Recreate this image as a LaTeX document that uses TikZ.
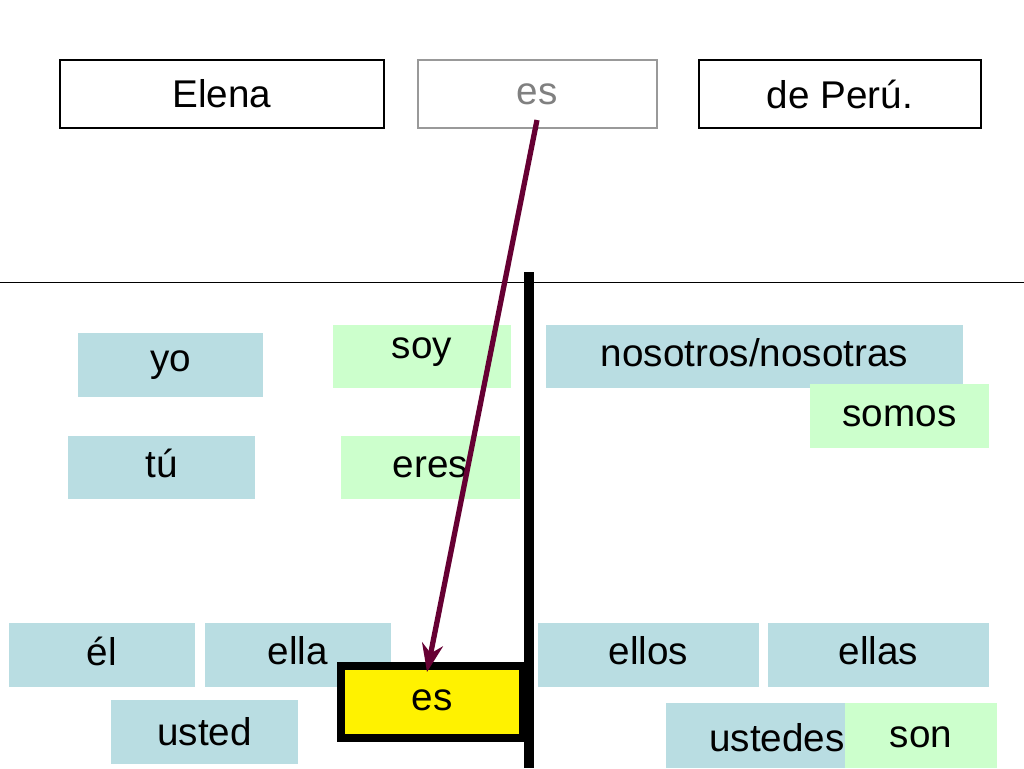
\documentclass[tikz,border=0pt]{standalone}
\usepackage{fontspec}
\setmainfont{Liberation Sans}
\usetikzlibrary{arrows.meta,calc}
\definecolor{pblue}{RGB}{185,221,226}
\definecolor{pgreen}{RGB}{204,255,204}
\definecolor{maroon}{RGB}{102,0,51}
\tikzset{
  word/.style={inner sep=0pt, font=\fontsize{22}{26}\selectfont},
  framebox/.style={draw=black, line width=1.6pt, fill=white},
}
\newcommand{\wordbox}[6]{% name, x1, y1, x2, y2, fill
  \fill[#6] (#2,#3) rectangle (#4,#5);
  \coordinate (#1) at ({(#2+#4)/2},{(#3+#5)/2});
}
\begin{document}
\begin{tikzpicture}[x=0.02cm,y=-0.02cm]
\useasboundingbox (0,0) rectangle (1024,768);
% sentence
\draw[framebox] (60,60) rectangle (384,128);
\node[word] (elena) at (222,94) {Elena};
\draw[framebox, draw=gray!80] (418,60) rectangle (657,128);
\node[word, text=gray] (estop) at (537,94) {es};
\draw[framebox] (699,60) rectangle (981,128);
\node[word] (peru) at (840,94) {de Perú.};
% divider lines
\draw[line width=0.4pt] (0,282) -- (1024,282);
% pronoun and verb boxes
\wordbox{yo}{78}{333}{263}{397}{pblue}
\wordbox{soy}{333}{325}{511}{388}{pgreen}
\wordbox{nos}{546}{325}{963}{388}{pblue}
\wordbox{somos}{810}{384}{989}{448}{pgreen}
\wordbox{tu}{68}{436}{255}{499}{pblue}
\wordbox{eres}{341}{436}{520}{499}{pgreen}
\wordbox{el}{9}{623}{195}{687}{pblue}
\wordbox{ella}{205}{623}{391}{687}{pblue}
\wordbox{usted}{111}{700}{298}{764}{pblue}
\wordbox{ellos}{538}{623}{759}{687}{pblue}
\wordbox{ellas}{768}{623}{989}{687}{pblue}
\wordbox{ustedes}{666}{703}{888}{768}{pblue}
\wordbox{son}{845}{703}{997}{768}{pgreen}
\draw[line width=4.5pt, fill=yellow] (341,666) rectangle (523,738);
\coordinate (esy) at (432,700);
\draw[line width=6pt] (529,272) -- (529,768);
\node[word] at (yo) {yo};
\node[word] at ($(soy)+(0,-4)$) {soy};
\node[word] at ($(nos)+(0,-4)$) {nosotros/nosotras};
\node[word] at (somos) {somos};
\node[word] at ($(tu)+(0,-4)$) {tú};
\node[word] at (eres) {eres};
\node[word] at ($(el)+(0,-4)$) {él};
\node[word] at ($(ella)+(0,-4)$) {ella};
\node[word] at (usted) {usted};
\node[word] at ($(ellos)+(0,-4)$) {ellos};
\node[word] at ($(ellas)+(0,-4)$) {ellas};
\node[word] at ($(ustedes)+(0,2)$) {ustedes};
\node[word] at ($(son)+(0,2)$) {son};
\node[word] at (esy) {es};
% arrow
\coordinate (from) at (537,120);
\coordinate (to) at (427,672);
\draw[maroon, line width=3pt, -{Stealth[length=16pt,width=12pt]}] (from) -- (to);
\end{tikzpicture}
\end{document}
